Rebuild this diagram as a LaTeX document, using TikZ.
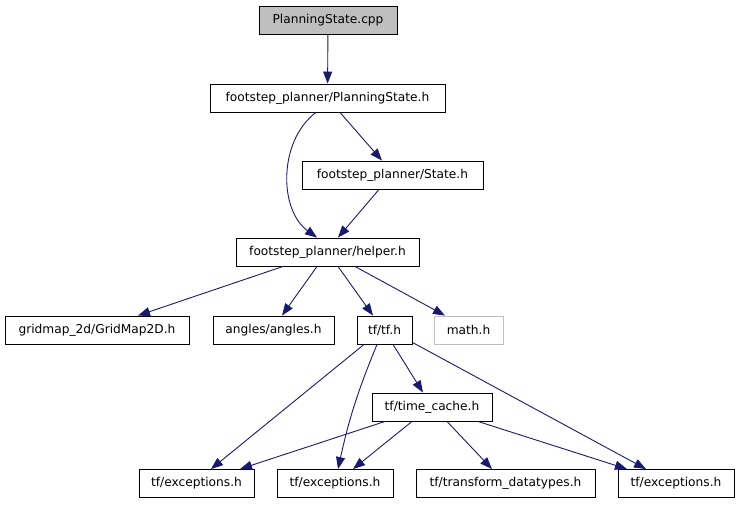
\documentclass[tikz,border=0pt]{standalone}
\usepackage{fontspec}
\setmainfont{DejaVu Sans}
\usetikzlibrary{arrows.meta}
\definecolor{edgecol}{HTML}{191970}
\definecolor{graybox}{HTML}{BFBFBF}
\tikzset{
  fbox/.style={draw=black, line width=0.9pt, minimum height=28pt, inner sep=0pt, font=\fontsize{12.2pt}{14pt}\selectfont, fill=white},
  grayfill/.style={fbox, fill=graybox},
  grayline/.style={fbox, draw=graybox},
  dep/.style={draw=edgecol, line width=0.9pt, -{Triangle[length=12pt,width=9pt]}, fill=none}
}
\begin{document}
\begin{tikzpicture}[x=1pt,y=-1pt]
\useasboundingbox (0,0) rectangle (739,504);
\node[grayfill, minimum width=138pt] (cpp) at (328,20.5) {PlanningState.cpp};
\node[fbox, minimum width=235pt] (psh) at (327.5,98) {footstep\_planner/PlanningState.h};
\node[fbox, minimum width=181pt] (state) at (392.5,175) {footstep\_planner/State.h};
\node[fbox, minimum width=183pt] (helper) at (327.5,252) {footstep\_planner/helper.h};
\node[fbox, minimum width=184pt] (grid) at (97,330) {gridmap\_2d/GridMap2D.h};
\node[fbox, minimum width=121pt] (angles) at (273.5,330) {angles/angles.h};
\node[fbox, minimum width=55pt] (tf) at (384.5,330) {tf/tf.h};
\node[grayline, minimum width=69pt] (math) at (468.5,330) {math.h};
\node[fbox, minimum width=120pt] (tc) at (432,407) {tf/time\_cache.h};
\node[fbox, minimum width=115pt] (exa) at (196.5,483.5) {tf/exceptions.h};
\node[fbox, minimum width=116pt] (exb) at (335,483.5) {tf/exceptions.h};
\node[fbox, minimum width=179pt] (dt) at (505.5,483.5) {tf/transform\_datatypes.h};
\node[fbox, minimum width=116pt] (exc) at (676,483.5) {tf/exceptions.h};

\draw[dep] (cpp) -- (psh);
\draw[dep] ([xshift=-11.5pt]psh.south) .. controls +(-37.5pt,-28pt) and +(-38.5pt,28pt) .. ([xshift=-10.5pt]helper.north);
\draw[dep] ([xshift=12.5pt]psh.south) -- ([xshift=-10.5pt]state.north);
\draw[dep] ([xshift=-13.5pt]state.south) -- ([xshift=10.5pt]helper.north);
\draw[dep] ([xshift=-44.5pt]helper.south) -- ([xshift=41pt]grid.north);
\draw[dep] ([xshift=-10.5pt]helper.south) -- ([xshift=8.5pt]angles.north);
\draw[dep] ([xshift=10.5pt]helper.south) -- ([xshift=-11.5pt]tf.north);
\draw[dep] ([xshift=27.5pt]helper.south) -- ([xshift=-23.5pt]math.north);
\draw[dep] ([xshift=-20.5pt]tf.south) -- ([xshift=14.5pt]exa.north);
\draw[dep] ([xshift=-7.5pt]tf.south) to[bend right=5] ([xshift=3pt]exb.north);
\draw[dep] ([xshift=8.5pt]tf.south) -- ([xshift=-9pt]tc.north);
\draw[dep] ([yshift=2pt]tf.south east) -- ([xshift=-30pt]exc.north);
\draw[dep] ([xshift=-47pt]tc.south) -- ([xshift=43.5pt]exa.north);
\draw[dep] ([xshift=-20pt]tc.south) -- ([xshift=18pt]exb.north);
\draw[dep] ([xshift=15pt]tc.south) -- ([xshift=-13.5pt]dt.north);
\draw[dep] ([xshift=46pt]tc.south) -- ([xshift=-49pt]exc.north);
\end{tikzpicture}
\end{document}
